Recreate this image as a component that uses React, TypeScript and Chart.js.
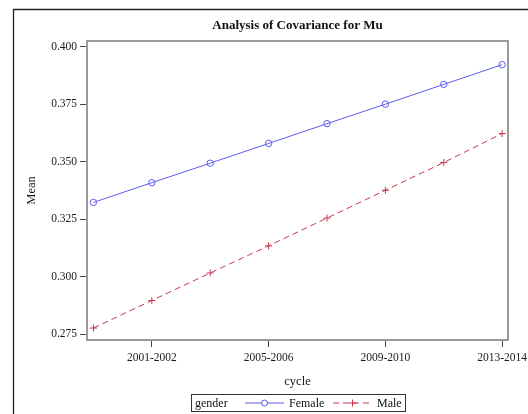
import React, { useEffect, useRef } from "react";
import { Chart, registerables } from "chart.js";

Chart.register(...registerables);

const categories = [
  "1999-2000",
  "2001-2002",
  "2003-2004",
  "2005-2006",
  "2007-2008",
  "2009-2010",
  "2011-2012",
  "2013-2014",
];
const femaleValues = [0.3323, 0.3409, 0.3494, 0.358, 0.3666, 0.3751, 0.3837, 0.3923];
const maleValues = [0.2776, 0.2896, 0.3016, 0.3134, 0.3255, 0.3376, 0.3497, 0.3623];
const yTicks = [0.275, 0.3, 0.325, 0.35, 0.375, 0.4];
const xTickIndices = [2, 4, 6, 8];

const SERIF = "'Liberation Serif', 'Times New Roman', serif";
const FEMALE_COLOR = "#5c5cf0";
const MALE_COLOR = "#c8374e";

const decorPlugin = {
  id: "decor",
  beforeDraw(chart: any) {
    const ctx = chart.ctx;
    ctx.save();
    ctx.fillStyle = "#ffffff";
    ctx.fillRect(0, 0, chart.width, chart.height);
    ctx.restore();
  },
  afterDraw(chart: any) {
    const ctx = chart.ctx;
    const ca = chart.chartArea;
    ctx.save();
    // outer frame lines
    ctx.strokeStyle = "#222";
    ctx.lineWidth = 1.3;
    ctx.beginPath();
    ctx.moveTo(13.5, chart.height);
    ctx.lineTo(13.5, 9.5);
    ctx.lineTo(chart.width, 9.5);
    ctx.stroke();

    // plot frame
    ctx.strokeStyle = "#9a9a9a";
    ctx.lineWidth = 2;
    ctx.strokeRect(ca.left, ca.top, ca.right - ca.left, ca.bottom - ca.top);

    // title
    ctx.fillStyle = "#111";
    ctx.font = `bold 13px ${SERIF}`;
    ctx.textAlign = "center";
    ctx.textBaseline = "middle";
    ctx.fillText("Analysis of Covariance for Mu", (ca.left + ca.right) / 2, 25.5);

    // legend
    const lx = 191, ly = 394, lw = 214, lh = 17;
    ctx.strokeStyle = "#333";
    ctx.lineWidth = 1;
    ctx.strokeRect(lx + 0.5, ly + 0.5, lw, lh);
    const cy = ly + lh / 2 + 0.5;
    ctx.font = `12px ${SERIF}`;
    ctx.textAlign = "left";
    ctx.textBaseline = "middle";
    ctx.fillStyle = "#111";
    ctx.fillText("gender", 195, cy + 1);
    // female sample
    ctx.strokeStyle = FEMALE_COLOR;
    ctx.lineWidth = 1;
    ctx.setLineDash([]);
    ctx.beginPath();
    ctx.moveTo(245, cy);
    ctx.lineTo(284, cy);
    ctx.stroke();
    ctx.fillStyle = "#fff";
    ctx.beginPath();
    ctx.arc(264.5, cy, 3, 0, Math.PI * 2);
    ctx.fill();
    ctx.stroke();
    ctx.fillStyle = "#111";
    ctx.fillText("Female", 289, cy + 1);
    // male sample
    ctx.strokeStyle = MALE_COLOR;
    ctx.setLineDash([6, 4]);
    ctx.beginPath();
    ctx.moveTo(333, cy);
    ctx.lineTo(373, cy);
    ctx.stroke();
    ctx.setLineDash([]);
    ctx.beginPath();
    ctx.moveTo(349, cy);
    ctx.lineTo(356, cy);
    ctx.moveTo(352.5, cy - 3.5);
    ctx.lineTo(352.5, cy + 3.5);
    ctx.stroke();
    ctx.fillStyle = "#111";
    ctx.fillText("Male", 377, cy + 1);
    ctx.restore();
  },
};

export default function App() {
  const canvasRef = useRef<HTMLCanvasElement | null>(null);

  useEffect(() => {
    document.body.style.margin = "0";
    const canvas = canvasRef.current;
    if (!canvas) return;
    const chart = new Chart(canvas, {
      type: "line",
      data: {
        datasets: [
          {
            label: "Female",
            data: femaleValues.map((v, i) => ({ x: i + 1, y: v })),
            borderColor: FEMALE_COLOR,
            backgroundColor: "#ffffff",
            borderWidth: 1,
            pointStyle: "circle",
            pointRadius: 3.2,
            pointBorderWidth: 1,
            pointBorderColor: FEMALE_COLOR,
            pointBackgroundColor: "rgba(255,255,255,0)",
            tension: 0,
          },
          {
            label: "Male",
            data: maleValues.map((v, i) => ({ x: i + 1, y: v })),
            borderColor: MALE_COLOR,
            backgroundColor: MALE_COLOR,
            borderWidth: 1,
            borderDash: [6, 4],
            pointStyle: "cross",
            pointRadius: 3.5,
            pointBorderWidth: 1,
            pointBorderColor: MALE_COLOR,
            tension: 0,
          },
        ],
      },
      options: {
        animation: false,
        responsive: false,
        devicePixelRatio: 1,
        layout: { padding: { top: 41, left: 14, right: 20, bottom: 0 } },
        plugins: {
          legend: { display: false },
          title: { display: false },
          tooltip: { enabled: false },
        },
        scales: {
          x: {
            type: "linear",
            min: 0.89,
            max: 8.1,
            afterBuildTicks(scale: any) {
              scale.ticks = xTickIndices.map((v) => ({ value: v }));
            },
            afterFit(scale: any) {
              scale.height = 74;
              scale.paddingLeft = 0;
              scale.paddingRight = 0;
            },
            border: { display: false },
            grid: {
              drawOnChartArea: false,
              drawTicks: true,
              tickLength: 7,
              color: "#444",
              tickWidth: 1,
            },
            ticks: {
              autoSkip: false,
              maxRotation: 0,
              padding: 4,
              color: "#1a1a1a",
              font: { family: SERIF, size: 11.5 },
              callback: (v: any) => categories[Number(v) - 1] ?? "",
            },
            title: {
              display: true,
              text: "cycle",
              color: "#1a1a1a",
              font: { family: SERIF, size: 12.5 },
              padding: { top: 0, bottom: 25 },
            },
          },
          y: {
            type: "linear",
            min: 0.2724,
            max: 0.4026,
            afterBuildTicks(scale: any) {
              scale.ticks = yTicks.map((v) => ({ value: v }));
            },
            afterFit(scale: any) {
              scale.width = 73;
              scale.paddingTop = 0;
              scale.paddingBottom = 0;
            },
            border: { display: false },
            grid: {
              drawOnChartArea: false,
              drawTicks: true,
              tickLength: 7,
              color: "#444",
              tickWidth: 1,
            },
            ticks: {
              padding: 3,
              color: "#1a1a1a",
              font: { family: SERIF, size: 11.5 },
              callback: (v: any) => Number(v).toFixed(3),
            },
            title: {
              display: true,
              text: "Mean",
              color: "#1a1a1a",
              font: { family: SERIF, size: 12.5 },
              padding: { top: 10, bottom: 0 },
            },
          },
        },
      },
      plugins: [decorPlugin],
    } as any);
    return () => chart.destroy();
  }, []);

  return (
    <div style={{ width: 528, height: 414 }}>
      <canvas ref={canvasRef} width={528} height={414} style={{ display: "block", width: 528, height: 414 }} />
    </div>
  );
}
